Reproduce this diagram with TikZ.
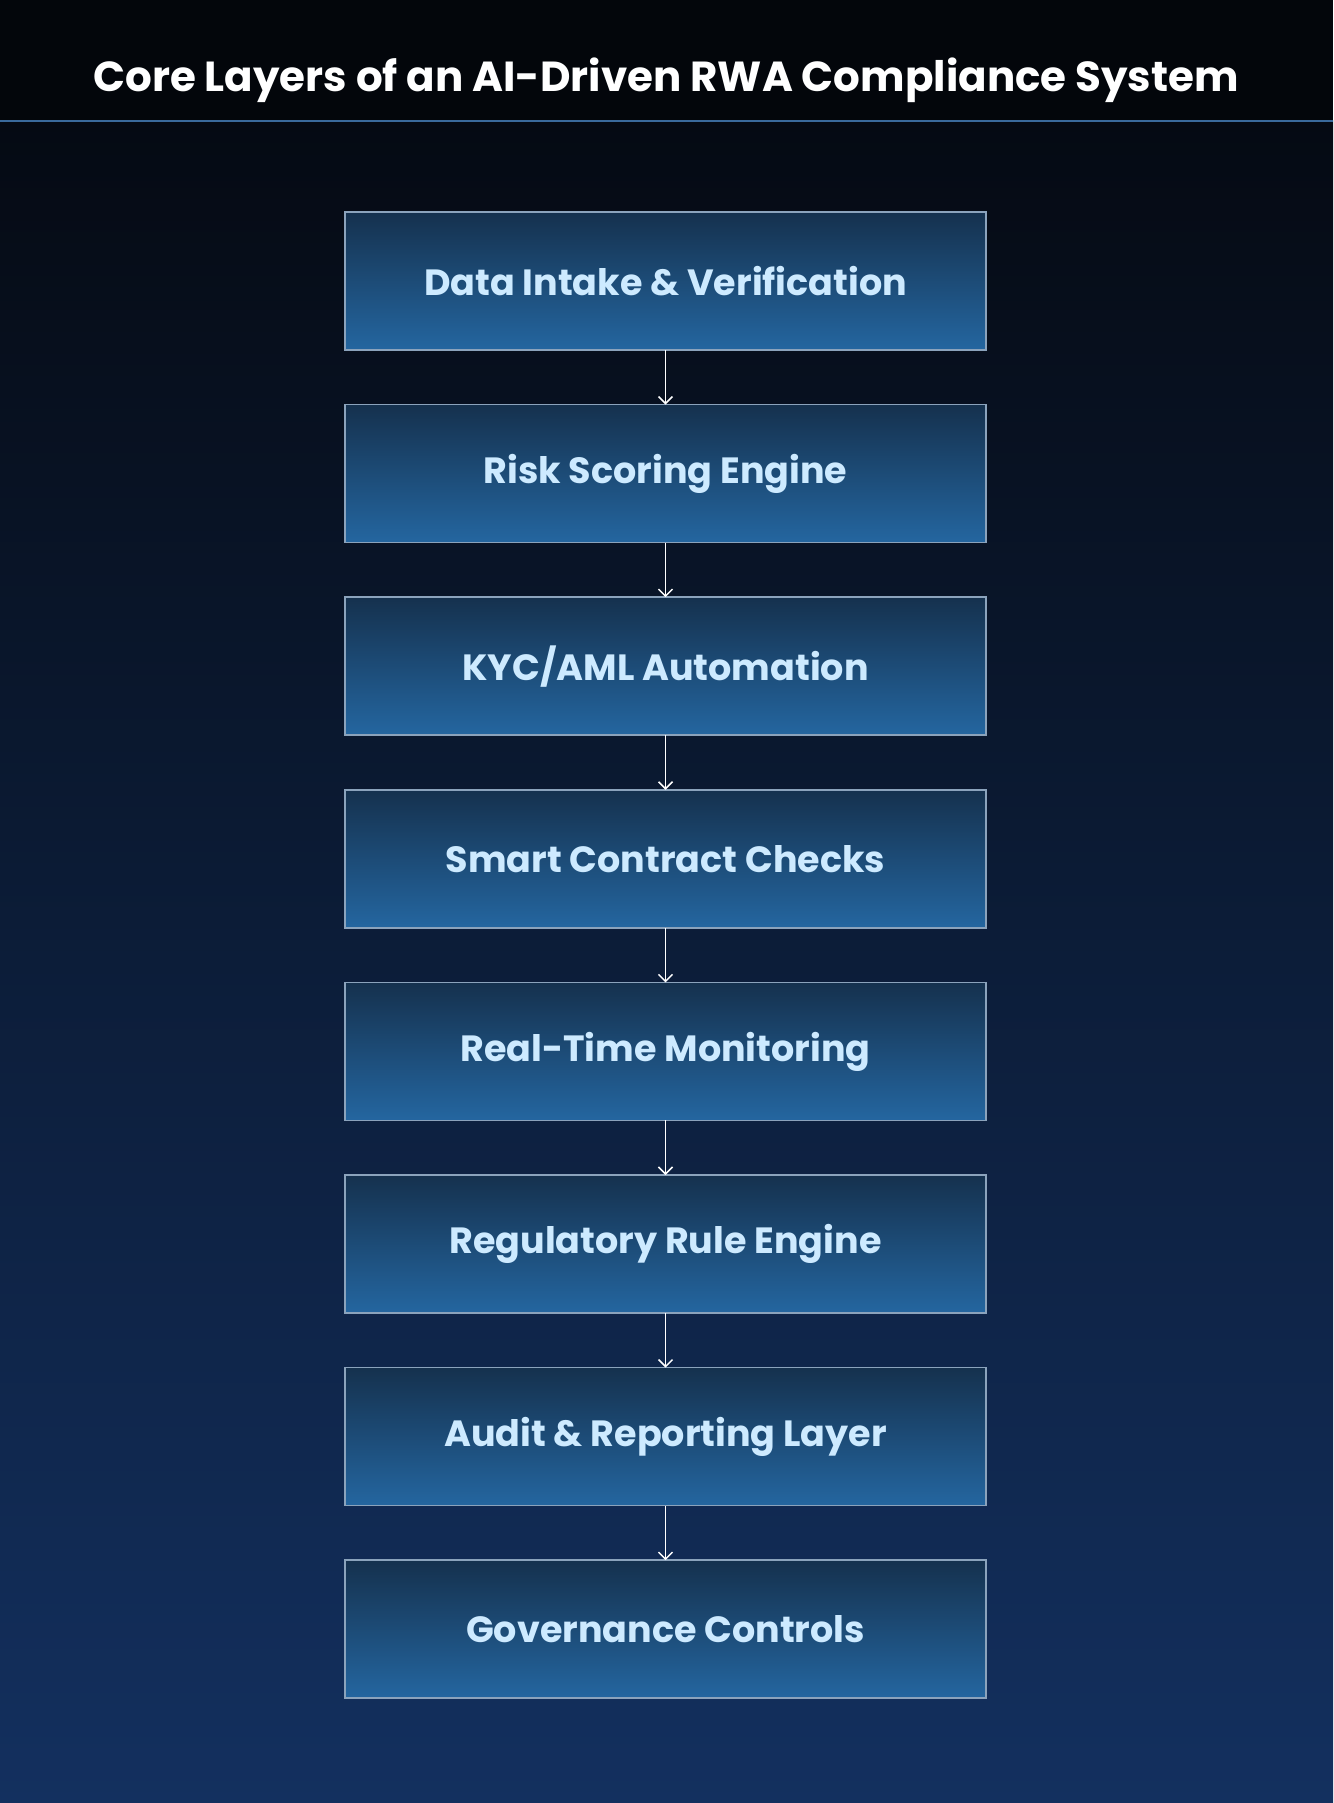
\documentclass[tikz,border=0pt]{standalone}
\usepackage{fontspec}
\setmainfont{Poppins}
\usetikzlibrary{positioning, arrows.meta}
\definecolor{bandtop}{HTML}{03060B}
\definecolor{bgtop}{HTML}{050A13}
\definecolor{bgbot}{HTML}{13305F}
\definecolor{sepblue}{HTML}{3A6A9C}
\definecolor{boxtop}{HTML}{15314E}
\definecolor{boxbot}{HTML}{2466A0}
\definecolor{boxrim}{HTML}{8BA3BC}
\definecolor{labelblue}{HTML}{CDEAFF}
\tikzset{
x=1pt, y=1pt,
node distance=54.6pt, % gap between two layers
layer/.style={draw=boxrim, line width=1.5pt, top color=boxtop, bottom color=boxbot,
  minimum width=641pt, minimum height=138pt, outer sep=0pt, inner sep=0pt,
  text=labelblue, font=\fontsize{36.5}{42}\selectfont\bfseries},
flow/.style={draw=white, line width=1.5pt, -{Straight Barb[length=7pt, width=14pt]}},
}
\begin{document}
\begin{tikzpicture}
            \useasboundingbox (0,0) rectangle (1333,-1803);
            % background
            \fill[top color=bgtop, bottom color=bgbot] (0,-121) rectangle (1333,-1803);
            \fill[bandtop] (0,0) rectangle (1333,-121);
            \draw[sepblue, line width=2.5pt] (0,-121) -- (1333,-121);

            \node[text=white, font=\fontsize{42}{48}\selectfont\bfseries] (title) at (666,-80) {Core Layers of an AI-Driven RWA Compliance System};

            \node[layer] (data) at (665.5,-281) {Data Intake \& Verification};
            \node[layer, below=of data] (risk) {Risk Scoring Engine};
            \node[layer, below=of risk] (kyc) {KYC/AML Automation};
            \node[layer, below=of kyc] (smart) {Smart Contract Checks};
            \node[layer, below=of smart] (monitor) {Real-Time Monitoring};
            \node[layer, below=of monitor] (rules) {Regulatory Rule Engine};
            \node[layer, below=of rules] (audit) {Audit \& Reporting Layer};
            \node[layer, below=of audit] (gov) {Governance Controls};

            \draw[flow] (data) -- (risk);
            \draw[flow] (risk) -- (kyc);
            \draw[flow] (kyc) -- (smart);
            \draw[flow] (smart) -- (monitor);
            \draw[flow] (monitor) -- (rules);
            \draw[flow] (rules) -- (audit);
            \draw[flow] (audit) -- (gov);
        \end{tikzpicture}
\end{document}
